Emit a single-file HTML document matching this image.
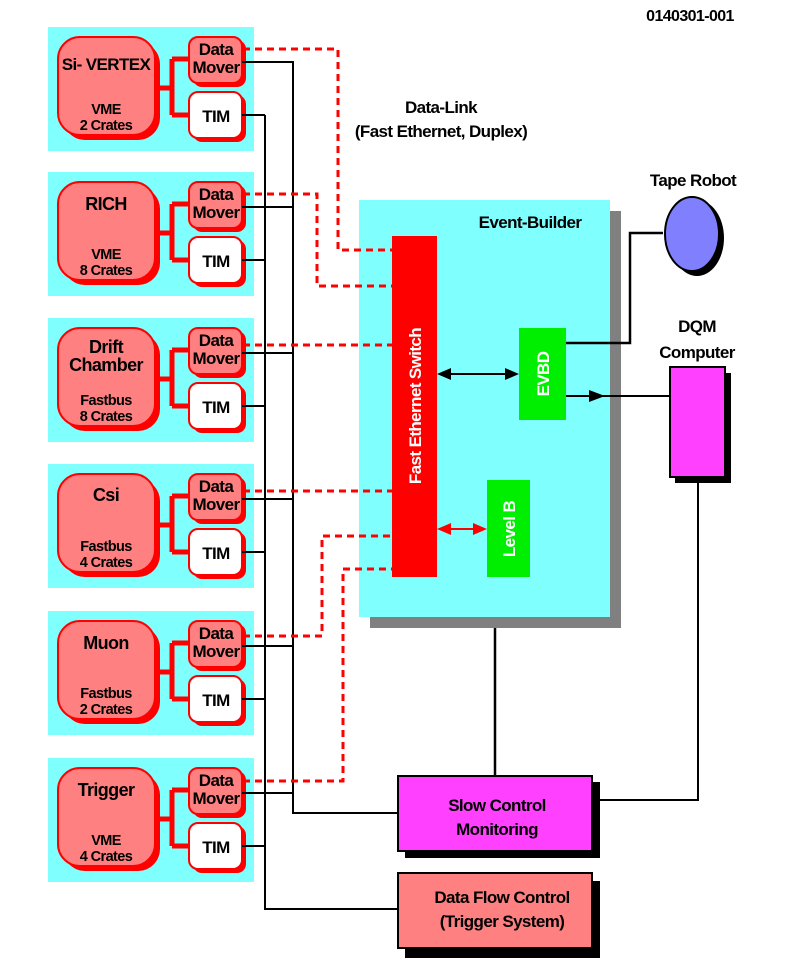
<!DOCTYPE html>
<html><head><meta charset="utf-8"><style>
html,body{margin:0;padding:0;background:#fff;}
svg{display:block;}
text{font-family:"Liberation Sans",sans-serif;font-weight:bold;fill:#000;text-anchor:middle;letter-spacing:-0.6px;}
.t{font-size:18px;}
.s{font-size:14.5px;}
.d{font-size:17px;}
.b{font-size:17px;}
</style></head><body>
<svg width="790" height="971" viewBox="0 0 790 971" xmlns="http://www.w3.org/2000/svg">
<defs>
<g id="panel">
<rect x="48" y="0" width="206" height="124" fill="#80ffff"/>
<rect x="63" y="15" width="97" height="98" rx="22" fill="#ff0000"/>
<rect x="58" y="10" width="97" height="98" rx="22" fill="#ff8080" stroke="#ff0000" stroke-width="2"/>
<path d="M155 61H172M172 32V88M172 32H190M172 88H190" stroke="#ff0000" stroke-width="5" fill="none"/>
<rect x="193" y="13" width="53" height="47" rx="9" fill="#ff0000"/>
<rect x="189" y="10" width="53" height="46" rx="9" fill="#ff8080" stroke="#ff0000" stroke-width="2"/>
<rect x="193" y="68" width="53" height="47" rx="9" fill="#ff0000"/>
<rect x="189" y="65" width="53" height="46" rx="9" fill="#ffffff" stroke="#ff0000" stroke-width="2"/>
<text class="d" x="216" y="28">Data</text>
<text class="d" x="216" y="46">Mover</text>
<text class="d" x="216" y="95">TIM</text>
<path d="M242 35H293M242 88H265" stroke="#000" stroke-width="2" fill="none"/>
</g>
</defs>

<text x="690" y="21" style="font-size:16px">0140301-001</text>
<text x="441" y="113" class="b">Data-Link</text>
<text x="441" y="137" class="b">(Fast Ethernet, Duplex)</text>
<text x="693" y="186" class="b">Tape Robot</text>

<path d="M293 61V813H398M265 115V909H398" stroke="#000" stroke-width="2" fill="none"/>

<use href="#panel" transform="translate(0,27)"/>
<use href="#panel" transform="translate(0,172)"/>
<use href="#panel" transform="translate(0,318)"/>
<use href="#panel" transform="translate(0,464)"/>
<use href="#panel" transform="translate(0,611)"/>
<use href="#panel" transform="translate(0,758)"/>

<text class="t" x="106" y="70" style="font-size:17px">Si- VERTEX</text>
<text class="s" x="106" y="114">VME</text><text class="s" x="106" y="130">2 Crates</text>
<text class="t" x="106" y="210">RICH</text>
<text class="s" x="106" y="259">VME</text><text class="s" x="106" y="275">8 Crates</text>
<text class="t" x="106" y="353">Drift</text><text class="t" x="106" y="371">Chamber</text>
<text class="s" x="106" y="405">Fastbus</text><text class="s" x="106" y="421">8 Crates</text>
<text class="t" x="106" y="501">Csi</text>
<text class="s" x="106" y="551">Fastbus</text><text class="s" x="106" y="567">4 Crates</text>
<text class="t" x="106" y="649">Muon</text>
<text class="s" x="106" y="698">Fastbus</text><text class="s" x="106" y="714">2 Crates</text>
<text class="t" x="106" y="796">Trigger</text>
<text class="s" x="106" y="845">VME</text><text class="s" x="106" y="861">4 Crates</text>

<rect x="370" y="211" width="251" height="417" fill="#808080"/>
<rect x="359" y="200" width="251" height="417" fill="#80ffff"/>
<text x="530" y="228" class="b">Event-Builder</text>

<g stroke="#ff0000" stroke-width="3" fill="none" stroke-dasharray="7,5">
<path d="M243 49H338V250H392"/>
<path d="M243 194H317V286H392"/>
<path d="M243 345H392"/>
<path d="M243 491H392"/>
<path d="M243 636H322V536H392"/>
<path d="M243 781H343V569H392"/>
</g>

<rect x="392" y="236" width="45" height="341" fill="#ff0000"/>
<text transform="translate(421,406) rotate(-90)" style="font-size:17px;fill:#fff">Fast Ethernet Switch</text>
<rect x="519" y="328" width="47" height="92" fill="#00ee00"/>
<text transform="translate(549,374) rotate(-90)" style="font-size:17px;fill:#fff">EVBD</text>
<rect x="487" y="480" width="43" height="97" fill="#00ee00"/>
<text transform="translate(515,529) rotate(-90)" style="font-size:17px;fill:#fff">Level B</text>

<path d="M445 374H511" stroke="#000" stroke-width="2"/>
<path d="M437 374L451 368V380Z M519 374L505 368V380Z" fill="#000"/>
<path d="M445 529H479" stroke="#ff0000" stroke-width="2"/>
<path d="M437 529L451 523V535Z M487 529L473 523V535Z" fill="#ff0000"/>
<path d="M566 396H670" stroke="#000" stroke-width="2"/>
<path d="M605 396L589 390V402Z" fill="#000"/>
<path d="M566 343H630V233H663" stroke="#000" stroke-width="2.5" fill="none"/>

<ellipse cx="697" cy="238" rx="27" ry="38" fill="#000"/>
<ellipse cx="692" cy="234" rx="27" ry="37" fill="#8080ff" stroke="#000" stroke-width="2"/>

<text x="697" y="332" class="b">DQM</text>
<text x="697" y="358" class="b">Computer</text>
<rect x="675" y="373" width="56" height="110" fill="#000"/>
<rect x="670" y="367" width="55" height="110" fill="#ff40ff" stroke="#000" stroke-width="2"/>
<path d="M698 483V800H600" stroke="#000" stroke-width="2" fill="none"/>
<path d="M495 628V776" stroke="#000" stroke-width="2.5"/>

<rect x="405" y="782" width="195" height="76" fill="#000"/>
<rect x="398" y="776" width="194" height="75" fill="#ff40ff" stroke="#000" stroke-width="2"/>
<text x="497" y="811" class="b">Slow Control</text>
<text x="497" y="835" class="b">Monitoring</text>
<rect x="405" y="881" width="195" height="77" fill="#000"/>
<rect x="398" y="873" width="194" height="75" fill="#ff8080" stroke="#000" stroke-width="2"/>
<text x="502" y="903" class="b">Data Flow Control</text>
<text x="502" y="927" class="b">(Trigger System)</text>
</svg>
</body></html>
